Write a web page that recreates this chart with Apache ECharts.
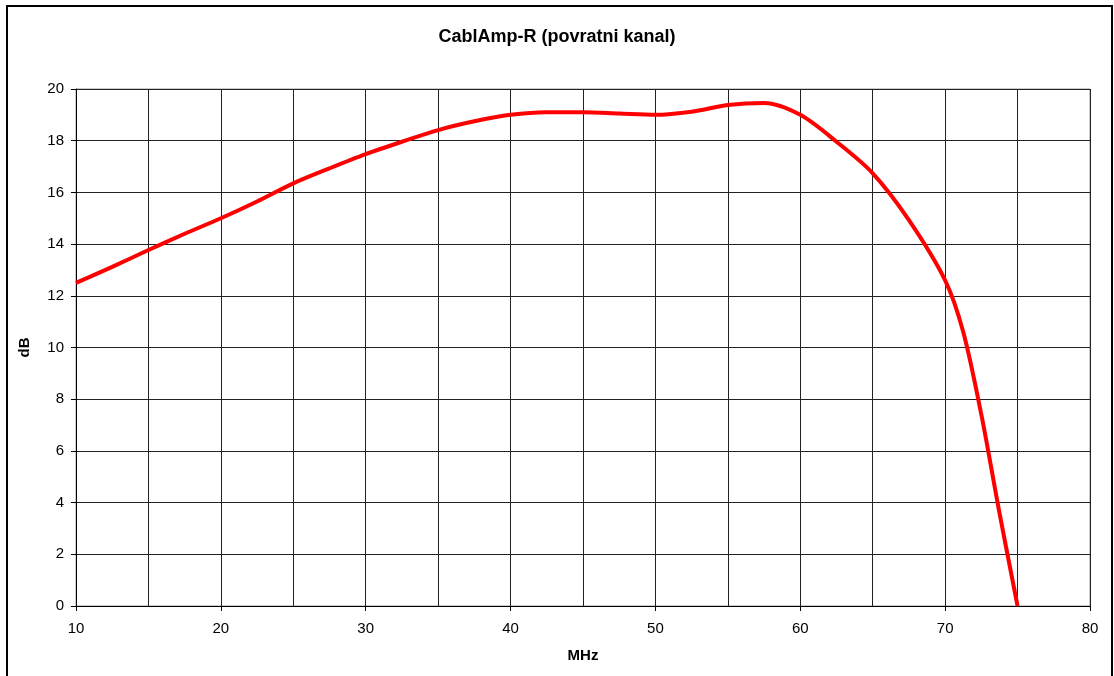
<!DOCTYPE html>
<html>
<head>
	<meta charset="utf-8" />
	<title>CablAmp-R (povratni kanal)</title>
	<style>
		* { margin: 0; padding: 0; }
		body { background: #fff; }
		#main { width: 1114px; height: 676px; }
	</style>
</head>
<body>
	<div id="main"></div>
	<script src="https://cdn.jsdelivr.net/npm/echarts@6/dist/echarts.min.js"></script>
	<script type="text/javascript">
		// frekvencija (MHz) i pojacanje (dB), procitano sa slike
		var freqMHz = [10, 12.5, 15, 17.5, 20, 22.5, 25, 27.5, 30, 32.5, 35, 37.5, 40, 42.5, 45, 47.5, 50, 52.5, 55, 57.5, 60, 62.5, 65, 67.5, 70, 71.25, 72.5, 73.75, 75];
		var gainDB = [12.5, 13.12, 13.77, 14.4, 15.0, 15.65, 16.35, 16.93, 17.48, 17.96, 18.41, 18.75, 19.0, 19.1, 19.1, 19.05, 19.0, 19.12, 19.38, 19.46, 19.0, 17.96, 16.74, 14.93, 12.6, 10.6, 7.4, 3.6, 0];

		var titleText = 'CablAmp-R (povratni kanal)';
		var xName = 'MHz';
		var yName = 'dB';

		var seriesData = freqMHz.map(function (f, i) { return [f, gainDB[i]]; });

		var myChart = echarts.init(document.getElementById('main'));
		var font = 'Liberation Sans, Arial, sans-serif';

		var option = {
			animation: false,
			backgroundColor: '#fff',
			textStyle: { fontFamily: font },
			title: {
				text: titleText,
				left: 'center',
				top: 23,
				textStyle: { fontFamily: font, fontSize: 18, fontWeight: 'bold', color: '#000' }
			},
			// okvir oko cijelog grafikona
			graphic: [{
				type: 'rect',
				shape: { x: 7, y: 6, width: 1105, height: 700 },
				style: { fill: null, stroke: '#000', lineWidth: 2 },
				silent: true
			}],
			grid: {
				left: 76, right: 24, top: 89, bottom: 70,
				show: true,
				borderColor: '#999',
				borderWidth: 1
			},
			xAxis: {
				type: 'value',
				min: 10, max: 80, interval: 10,
				name: xName,
				nameLocation: 'middle',
				nameGap: 42,
				nameTextStyle: { fontFamily: font, fontSize: 15, fontWeight: 'bold', color: '#000' },
				axisLine: { onZero: false, lineStyle: { color: '#000', width: 1 } },
				axisTick: { show: true, length: 5, lineStyle: { color: '#000' } },
				axisLabel: { margin: 15, fontFamily: font, fontSize: 15, color: '#000' },
				splitLine: { show: true, lineStyle: { color: '#222', width: 1 } },
				minorTick: { show: false, splitNumber: 2 },
				minorSplitLine: { show: true, lineStyle: { color: '#222', width: 1 } }
			},
			yAxis: {
				type: 'value',
				min: 0, max: 20, interval: 2,
				name: yName,
				nameLocation: 'middle',
				nameGap: 44,
				nameTextStyle: { fontFamily: font, fontSize: 15, fontWeight: 'bold', color: '#000' },
				axisLine: { show: true, lineStyle: { color: '#000', width: 1 } },
				axisTick: { show: true, length: 5, lineStyle: { color: '#000' } },
				axisLabel: { margin: 12, fontFamily: font, fontSize: 15, color: '#000' },
				splitLine: { show: true, lineStyle: { color: '#222', width: 1 } }
			},
			series: [{
				type: 'line',
				data: seriesData,
				smooth: 0.3,
				symbol: 'none',
				lineStyle: { color: '#ff0000', width: 4 },
				z: 5
			}]
		};
		myChart.setOption(option);
	</script>
</body>
</html>
